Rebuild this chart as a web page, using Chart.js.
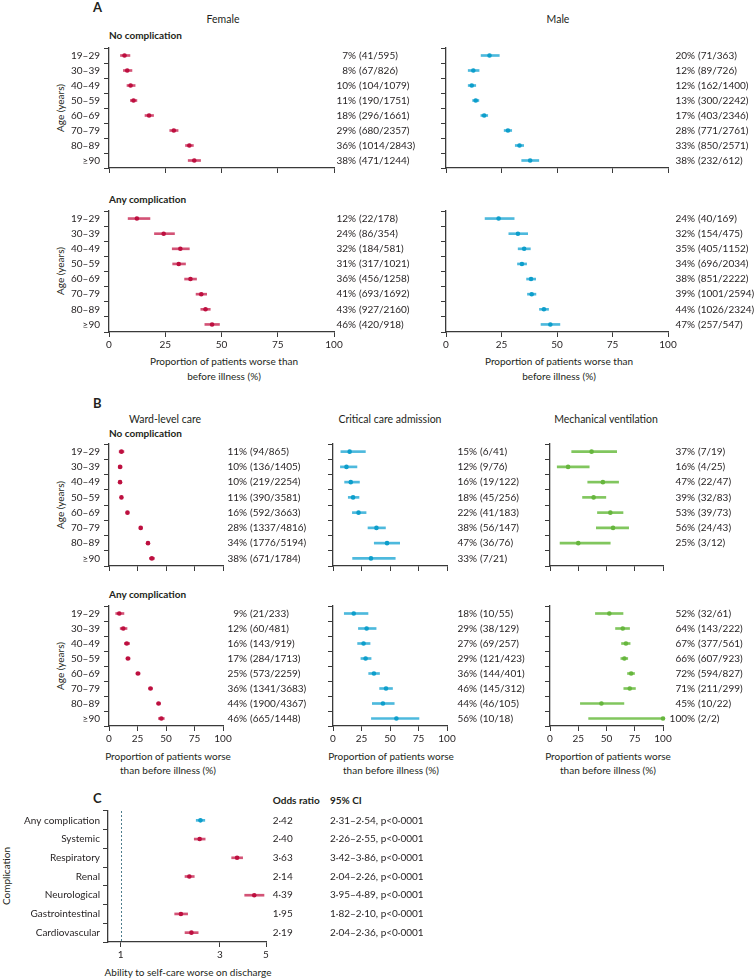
<!DOCTYPE html>
<html><head><meta charset="utf-8">
<script src="https://cdn.jsdelivr.net/npm/chart.js@4.4.1/dist/chart.umd.min.js"></script>
<style>
html,body{margin:0;padding:0;background:#fff;overflow:hidden;width:754px;height:979px}
#root{position:relative;width:754px;height:979px;font-family:Lato,'Open Sans',sans-serif;color:#231f20}
.t{position:absolute;white-space:nowrap;font-size:10px;line-height:12px}
.b{font-weight:bold}
canvas{position:absolute}
</style></head><body><div id="root"></div>
<script>
// ---------- data ----------
const ageGroups = ['19–29','30–39','40–49','50–59','60–69','70–79','80–89','≥90'];

// Panel A – female, no complication
const femaleNoEst = [6.9, 8.1, 9.6, 10.9, 17.8, 28.8, 35.7, 37.9];
const femaleNoLo  = [5.1, 6.4, 8.0, 9.5, 16.0, 27.0, 34.0, 35.2];
const femaleNoHi  = [9.3, 10.2, 11.6, 12.4, 19.8, 30.7, 37.5, 40.7];
const femaleNoPct = [7, 8, 10, 11, 18, 29, 36, 38];
const femaleNoCount = ['41/595','67/826','104/1079','190/1751','296/1661','680/2357','1014/2843','471/1244'];
// Panel A – male, no complication
const maleNoEst = [19.6, 12.3, 11.6, 13.4, 17.2, 27.9, 33.1, 37.9];
const maleNoLo  = [15.8, 10.0, 10.0, 12.0, 15.7, 26.2, 31.2, 34.1];
const maleNoHi  = [24.0, 14.9, 13.4, 14.8, 18.8, 29.6, 35.0, 41.8];
const maleNoPct = [20, 12, 12, 13, 17, 28, 33, 38];
const maleNoCount = ['71/363','89/726','162/1400','300/2242','403/2346','771/2761','850/2571','232/612'];
// Panel A – female, any complication
const femaleAnyEst = [12.4, 24.3, 31.7, 31.0, 36.2, 41.0, 42.9, 45.8];
const femaleAnyLo  = [8.5, 20.2, 28.1, 28.3, 33.6, 38.7, 40.8, 42.6];
const femaleAnyHi  = [18.2, 29.1, 35.7, 34.0, 38.9, 43.4, 45.0, 49.1];
const femaleAnyPct = [12, 24, 32, 31, 36, 41, 43, 46];
const femaleAnyCount = ['22/178','86/354','184/581','317/1021','456/1258','693/1692','927/2160','420/918'];
// Panel A – male, any complication
const maleAnyEst = [23.7, 32.4, 35.2, 34.2, 38.3, 38.6, 44.1, 47.0];
const maleAnyLo  = [17.6, 28.3, 32.5, 32.2, 36.3, 36.7, 42.1, 42.8];
const maleAnyHi  = [30.7, 36.8, 38.0, 36.3, 40.4, 40.5, 46.2, 51.3];
const maleAnyPct = [24, 32, 35, 34, 38, 39, 44, 47];
const maleAnyCount = ['40/169','154/475','405/1152','696/2034','851/2222','1001/2594','1026/2324','257/547'];

// Panel B – no complication
const wardNoEst = [10.9, 9.7, 9.7, 10.9, 16.2, 27.8, 34.2, 37.6];
const wardNoLo  = [8.9, 8.2, 8.5, 9.9, 15.0, 26.5, 32.9, 35.4];
const wardNoHi  = [13.1, 11.4, 11.0, 12.0, 17.4, 29.1, 35.5, 39.9];
const wardNoPct = [11, 10, 10, 11, 16, 28, 34, 38];
const wardNoCount = ['94/865','136/1405','219/2254','390/3581','592/3663','1337/4816','1776/5194','671/1784'];
const critNoEst = [14.6, 11.8, 15.6, 17.6, 22.4, 38.1, 47.4, 33.3];
const critNoLo  = [6.9, 6.5, 10.2, 13.4, 17.0, 30.7, 36.2, 17.2];
const critNoHi  = [28.4, 21.0, 23.2, 22.8, 29.0, 46.0, 58.5, 54.6];
const critNoPct = [15, 12, 16, 18, 22, 38, 47, 33];
const critNoCount = ['6/41','9/76','19/122','45/256','41/183','56/147','36/76','7/21'];
const mechNoEst = [36.8, 16.0, 46.8, 38.6, 53.4, 55.8, 25.0, null];
const mechNoLo  = [19.2, 6.4, 33.4, 28.8, 42.0, 41.0, 8.9, null];
const mechNoHi  = [59.0, 34.7, 60.7, 49.4, 64.6, 69.6, 53.3, null];
const mechNoPct = [37, 16, 47, 39, 53, 56, 25, null];
const mechNoCount = ['7/19','4/25','22/47','32/83','39/73','24/43','3/12', null];

// Panel B – any complication
const wardAnyEst = [9.0, 12.5, 15.6, 16.6, 25.4, 36.4, 43.5, 45.9];
const wardAnyLo  = [5.9, 9.8, 13.5, 15.0, 23.7, 34.9, 42.0, 43.4];
const wardAnyHi  = [13.1, 15.8, 18.1, 18.4, 27.2, 38.0, 45.0, 48.5];
const wardAnyPct = [9, 12, 16, 17, 25, 36, 44, 46];
const wardAnyCount = ['21/233','60/481','143/919','284/1713','573/2259','1341/3683','1900/4367','665/1448'];
const critAnyEst = [18.2, 29.5, 26.8, 28.6, 35.9, 46.5, 43.8, 55.6];
const critAnyLo  = [9.9, 22.3, 21.6, 24.5, 31.3, 40.9, 34.5, 33.7];
const critAnyHi  = [30.7, 37.8, 32.5, 33.4, 40.8, 52.2, 53.7, 75.4];
const critAnyPct = [18, 29, 27, 29, 36, 46, 44, 56];
const critAnyCount = ['10/55','38/129','69/257','121/423','144/401','145/312','46/105','10/18'];
const mechAnyEst = [52.5, 64.4, 67.2, 65.8, 71.8, 70.6, 45.5, 100];
const mechAnyLo  = [40.2, 58.0, 63.3, 62.7, 68.6, 65.3, 26.9, 34.2];
const mechAnyHi  = [64.6, 70.4, 70.9, 68.8, 74.8, 75.6, 65.4, 100];
const mechAnyPct = [52, 64, 67, 66, 72, 71, 45, 100];
const mechAnyCount = ['32/61','143/222','377/561','607/923','594/827','211/299','10/22','2/2'];

// Panel C
const complications = ['Any complication','Systemic','Respiratory','Renal','Neurological','Gastrointestinal','Cardiovascular'];
const oddsRatio = [2.42, 2.40, 3.63, 2.14, 4.39, 1.95, 2.19];
const orLower   = [2.31, 2.26, 3.42, 2.04, 3.95, 1.82, 2.04];
const orUpper   = [2.54, 2.55, 3.86, 2.26, 4.89, 2.10, 2.36];
const pLabel    = ['p<0·0001','p<0·0001','p<0·0001','p<0·0001','p<0·0001','p<0·0001','p<0·0001'];
const propTicks = [0, 25, 50, 75, 100];
const orTicks = [1, 3, 5];

// ---------- styling ----------
const INK = '#231f20', AXIS = '#3a3a3a';
const RED = '#bd0f3f', RED_CI = 'rgba(198,34,80,0.78)';
const BLUE = '#0d9ecb', BLUE_CI = 'rgba(38,170,214,0.82)';
const GREEN = '#66b63d', GREEN_CI = 'rgba(112,190,72,0.88)';
const FONT = "Lato, 'Open Sans', sans-serif";
Chart.defaults.font.family = FONT;
Chart.defaults.font.size = 10;
Chart.defaults.color = INK;

const root = document.getElementById('root');
function txt(s, x, y, o = {}) {
  const d = document.createElement('div');
  d.className = 't' + (o.bold ? ' b' : '');
  d.textContent = s;
  if (o.size) d.style.fontSize = o.size + 'px';
  d.style.left = x + 'px'; d.style.top = y + 'px';
  let tr = o.align === 'center' ? 'translate(-50%,-50%)' : o.align === 'right' ? 'translate(-100%,-50%)' : 'translate(0,-50%)';
  if (o.rotate) tr = 'translate(-50%,-50%) rotate(-90deg)';
  d.style.transform = tr;
  root.appendChild(d);
}
const fmt2 = v => v.toFixed(2).replace('.', '·');

function makeForest(p) {
  const padT = 14;
  const cl = p.left - p.yW, ct = p.top - padT;
  const W = p.right - cl + p.padR, H = p.bottom - ct + p.xH;
  const cv = document.createElement('canvas');
  cv.width = W; cv.height = H;
  cv.style.left = cl + 'px'; cv.style.top = ct + 'px';
  cv.style.width = W + 'px'; cv.style.height = H + 'px';
  root.appendChild(cv);
  const annot = {
    id: 'annot',
    beforeDatasetsDraw(chart) {
      if (p.refLine == null) return;
      const ctx = chart.ctx, xs = chart.scales.x, a = chart.chartArea;
      const x = Math.round(xs.getPixelForValue(p.refLine)) + 0.5;
      ctx.save();
      ctx.strokeStyle = '#4d7d8c'; ctx.lineWidth = 1; ctx.setLineDash([2, 2]);
      ctx.beginPath(); ctx.moveTo(x, a.top); ctx.lineTo(x, a.bottom); ctx.stroke();
      ctx.restore();
    },
    afterDraw(chart) {
      const ctx = chart.ctx, ys = chart.scales.y;
      ctx.save();
      ctx.font = '10px ' + FONT; ctx.fillStyle = INK; ctx.textBaseline = 'middle';
      p.cols.forEach(col => {
        ctx.textAlign = col.align;
        col.text.forEach((s, i) => {
          if (s == null) return;
          ctx.fillText(s, col.x - cl, ys.getPixelForValue(i));
        });
      });
      ctx.restore();
    }
  };
  new Chart(cv, {
    type: 'bar',
    data: {
      labels: p.labels,
      datasets: [
        { type: 'line', data: p.est, showLine: false, pointRadius: 2.3, pointHoverRadius: 2.3,
          pointBackgroundColor: p.dot, pointBorderWidth: 0, borderColor: p.dot, clip: false, order: 0 },
        { type: 'bar', data: p.lo.map((l, i) => l == null ? null : [l, p.hi[i]]),
          backgroundColor: p.ci, borderWidth: 0, barThickness: 2, clip: false, order: 1 }
      ]
    },
    options: {
      indexAxis: 'y', responsive: false, animation: false, events: [],
      layout: { padding: { top: padT, right: p.padR, left: 0, bottom: 0 } },
      plugins: { legend: { display: false }, tooltip: { enabled: false } },
      scales: {
        x: {
          type: p.xType || 'linear', min: p.xMin, max: p.xMax, offset: false,
          afterFit: s => { s.height = p.xH; },
          afterBuildTicks: s => { s.ticks = p.xTicks.map(v => ({ value: v })); },
          ticks: { display: p.showX, padding: 2, color: INK, autoSkip: false, maxRotation: 0,
                   callback: v => String(v) },
          grid: { drawOnChartArea: false, drawTicks: true, tickLength: 5, color: AXIS, lineWidth: 1 },
          border: { display: true, color: AXIS, width: 1.3 }
        },
        y: {
          type: 'category', offset: true,
          afterFit: s => { s.width = p.yW; },
          ticks: { display: p.showY, padding: p.yPad || 4, color: INK, autoSkip: false },
          grid: { offset: true, drawOnChartArea: false, drawTicks: true, tickLength: 5, color: AXIS, lineWidth: 1 },
          border: { display: true, color: AXIS, width: 1.3 }
        }
      }
    },
    plugins: [annot]
  });
}
function pctCols(pct, cnt, xR) {
  return [
    { x: xR, align: 'right', text: pct.map(v => v == null ? null : v + '%') },
    { x: xR + 3, align: 'left', text: cnt.map(v => v == null ? null : '(' + v + ')') }
  ];
}
function prop(o) {
  makeForest(Object.assign({ labels: ageGroups, xMin: 0, xMax: 100, xTicks: propTicks }, o));
}

// ---------- Panel A ----------
txt('A', 93, 7, { bold: true, size: 13 });
txt('Female', 223, 19, { align: 'center', size: 10.5 });
txt('Male', 558, 19, { align: 'center', size: 10.5 });
txt('No complication', 109, 35, { bold: true });
txt('Any complication', 109, 199, { bold: true });
txt('Age (years)', 60, 108, { rotate: true });
txt('Age (years)', 60, 271, { rotate: true });

prop({ left: 109, right: 334, top: 48, bottom: 168, yW: 109, xH: 14, padR: 100, showY: true, showX: false,
  est: femaleNoEst, lo: femaleNoLo, hi: femaleNoHi, dot: RED, ci: RED_CI, cols: pctCols(femaleNoPct, femaleNoCount, 356) });
prop({ left: 446, right: 668, top: 48, bottom: 168, yW: 8, xH: 14, padR: 86, showY: false, showX: false,
  est: maleNoEst, lo: maleNoLo, hi: maleNoHi, dot: BLUE, ci: BLUE_CI, cols: pctCols(maleNoPct, maleNoCount, 695) });
prop({ left: 109, right: 334, top: 211, bottom: 332, yW: 109, xH: 22, padR: 100, showY: true, showX: true,
  est: femaleAnyEst, lo: femaleAnyLo, hi: femaleAnyHi, dot: RED, ci: RED_CI, cols: pctCols(femaleAnyPct, femaleAnyCount, 356) });
prop({ left: 446, right: 668, top: 211, bottom: 332, yW: 8, xH: 22, padR: 86, showY: false, showX: true,
  est: maleAnyEst, lo: maleAnyLo, hi: maleAnyHi, dot: BLUE, ci: BLUE_CI, cols: pctCols(maleAnyPct, maleAnyCount, 695) });

txt('Proportion of patients worse than', 224, 361, { align: 'center' });
txt('before illness (%)', 224, 375.5, { align: 'center' });
txt('Proportion of patients worse than', 559, 361, { align: 'center' });
txt('before illness (%)', 559, 375.5, { align: 'center' });

// ---------- Panel B ----------
txt('B', 93, 403, { bold: true, size: 13 });
txt('Ward-level care', 165, 419, { align: 'center', size: 10.5 });
txt('Critical care admission', 390, 419, { align: 'center', size: 10.5 });
txt('Mechanical ventilation', 606, 419, { align: 'center', size: 10.5 });
txt('No complication', 109, 433, { bold: true });
txt('Any complication', 109, 594, { bold: true });
txt('Age (years)', 60, 505, { rotate: true });
txt('Age (years)', 60, 666, { rotate: true });

prop({ left: 109, right: 223, top: 444, bottom: 566, yW: 109, xH: 14, padR: 97, showY: true, showX: false,
  est: wardNoEst, lo: wardNoLo, hi: wardNoHi, dot: RED, ci: RED_CI, cols: pctCols(wardNoPct, wardNoCount, 247) });
prop({ left: 333, right: 447, top: 444, bottom: 566, yW: 8, xH: 14, padR: 90, showY: false, showX: false,
  est: critNoEst, lo: critNoLo, hi: critNoHi, dot: BLUE, ci: BLUE_CI, cols: pctCols(critNoPct, critNoCount, 477) });
prop({ left: 550, right: 663, top: 444, bottom: 566, yW: 8, xH: 14, padR: 91, showY: false, showX: false,
  est: mechNoEst, lo: mechNoLo, hi: mechNoHi, dot: GREEN, ci: GREEN_CI, cols: pctCols(mechNoPct, mechNoCount, 695) });
prop({ left: 109, right: 223, top: 606, bottom: 726, yW: 109, xH: 22, padR: 97, showY: true, showX: true,
  est: wardAnyEst, lo: wardAnyLo, hi: wardAnyHi, dot: RED, ci: RED_CI, cols: pctCols(wardAnyPct, wardAnyCount, 247) });
prop({ left: 333, right: 447, top: 606, bottom: 726, yW: 8, xH: 22, padR: 90, showY: false, showX: true,
  est: critAnyEst, lo: critAnyLo, hi: critAnyHi, dot: BLUE, ci: BLUE_CI, cols: pctCols(critAnyPct, critAnyCount, 477) });
prop({ left: 550, right: 663, top: 606, bottom: 726, yW: 8, xH: 22, padR: 91, showY: false, showX: true,
  est: mechAnyEst, lo: mechAnyLo, hi: mechAnyHi, dot: GREEN, ci: GREEN_CI, cols: pctCols(mechAnyPct, mechAnyCount, 695) });

txt('Proportion of patients worse', 168, 756, { align: 'center' });
txt('than before illness (%)', 168, 769.5, { align: 'center' });
txt('Proportion of patients worse', 391, 756, { align: 'center' });
txt('than before illness (%)', 391, 769.5, { align: 'center' });
txt('Proportion of patients worse', 608, 756, { align: 'center' });
txt('than before illness (%)', 608, 769.5, { align: 'center' });

// ---------- Panel C ----------
txt('C', 93, 798, { bold: true, size: 13 });
txt('Odds ratio', 272.7, 800, { bold: true });
txt('95% CI', 330, 800, { bold: true });
txt('Complication', 6, 876, { rotate: true });
txt('Ability to self-care worse on discharge', 188, 972, { align: 'center' });

makeForest({
  labels: complications, left: 108, right: 266, top: 811, bottom: 942, yW: 108, xH: 22, padR: 488, yPad: 3,
  xType: 'logarithmic', xMin: 0.87, xMax: 5, xTicks: orTicks, showY: true, showX: true, refLine: 1,
  est: oddsRatio, lo: orLower, hi: orUpper,
  dot: complications.map((c, i) => i === 0 ? BLUE : RED),
  ci: complications.map((c, i) => i === 0 ? BLUE_CI : RED_CI),
  cols: [
    { x: 272.7, align: 'left', text: oddsRatio.map(fmt2) },
    { x: 330, align: 'left', text: orLower.map((l, i) => fmt2(l) + '–' + fmt2(orUpper[i]) + ', ' + pLabel[i]) }
  ]
});
</script>
</body></html>
